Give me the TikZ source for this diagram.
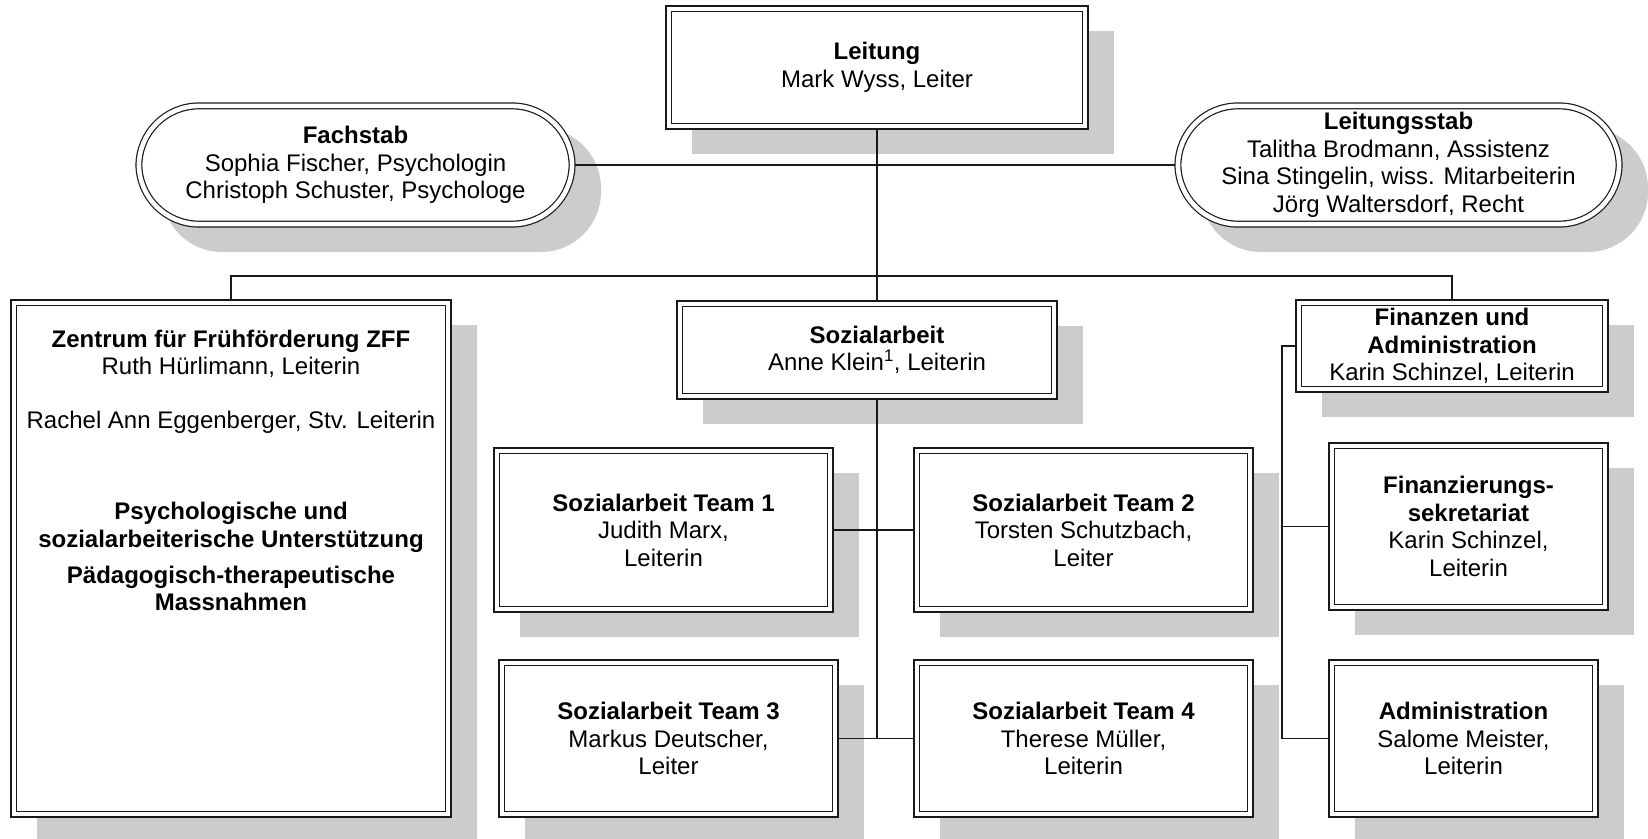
\documentclass[tikz,border=0pt]{standalone}
\usepackage{fontspec}
\setmainfont{Liberation Sans}
\definecolor{shadowfill}{RGB}{204,204,204}
\definecolor{inkline}{RGB}{25,25,25}
\tikzset{
  unitbox/.style={draw=inkline, line width=1.2pt, double=white, double distance=4.6pt,
    fill=white, inner sep=0pt, outer sep=2.9pt, align=center, text=black,
    font=\fontsize{24}{27.5}\selectfont},
  shadowbox/.style={fill=shadowfill, draw=none},
  conn/.style={draw=inkline, line width=1.1pt},
  txt/.style={inner sep=0pt, align=center, text=black, font=\fontsize{24}{27.5}\selectfont}
}
% #1 extra options, #2 name, #3 x1, #4 y1, #5 x2, #6 y2, #7 text
\newcommand\orgbox[7][]{%
  \fill[shadowbox,#1] ({#3+26},{#4+25}) rectangle ({#5+26},{#6+25});
  \node[unitbox,#1, minimum width={#5pt-#3pt-5.8pt}, minimum height={#6pt-#4pt-5.8pt}]
    (#2) at ({(#3+#5)/2},{(#4+#6)/2}) {#7};%
}
\begin{document}
\begin{tikzpicture}[x=1pt,y=-1pt]
\useasboundingbox (0,0) rectangle (1648,838);
\clip (0,0) rectangle (1648,838);

% top level
\orgbox{lt}{666}{6}{1088}{129}{\textbf{Leitung}\\Mark Wyss, Leiter}
\orgbox[rounded corners=60pt]{fs}{136}{103}{575}{227}{\textbf{Fachstab}\\Sophia Fischer, Psychologin\\Christoph Schuster, Psychologe}
\orgbox[rounded corners=60pt]{ls}{1175}{103}{1622}{227}{\textbf{Leitungsstab}\\Talitha Brodmann, Assistenz\\Sina Stingelin, wiss. Mitarbeiterin\\J\"org Waltersdorf, Recht}

% second level
\orgbox{zff}{11}{300}{451}{817}{}
\node[txt, anchor=north] (zfftxt) at (231,329.5) {\textbf{Zentrum für Frühförderung ZFF}\\Ruth Hürlimann, Leiterin\\[26.5pt]
Rachel Ann Eggenberger, Stv. Leiterin\\[63.5pt]
\textbf{Psychologische und}\\\textbf{sozialarbeiterische Unterstützung}\\[8.5pt]
\textbf{Pädagogisch-therapeutische}\\\textbf{Massnahmen}};
\orgbox{sa}{677}{301}{1057}{399}{}
\node[txt] (satxt) at (877,350) {\textbf{Sozialarbeit}\\Anne Klein\textsuperscript{1}, Leiterin};
\orgbox{fa}{1296}{300}{1608}{392}{\textbf{Finanzen und}\\\textbf{Administration}\\Karin Schinzel, Leiterin}

% teams
\orgbox{t1}{494}{448}{833}{612}{\textbf{Sozialarbeit Team 1}\\Judith Marx,\\Leiterin}
\orgbox{t2}{914}{448}{1253}{612}{\textbf{Sozialarbeit Team 2}\\Torsten Schutzbach,\\Leiter}
\orgbox{t3}{499}{660}{838}{817}{\textbf{Sozialarbeit Team 3}\\Markus Deutscher,\\Leiter}
\orgbox{t4}{914}{660}{1253}{817}{\textbf{Sozialarbeit Team 4}\\Therese Müller,\\Leiterin}
\orgbox{fz}{1329}{443}{1608}{610}{\textbf{Finanzierungs-}\\\textbf{sekretariat}\\Karin Schinzel,\\Leiterin}
\orgbox{ad}{1329}{660}{1598}{817}{\textbf{Administration}\\Salome Meister,\\Leiterin}

% connectors
\coordinate (bus) at (877,276);
\coordinate (ftree) at (1282,346);
\draw[conn] (lt.south) -- (lt.south |- sa.north);
\draw[conn] (fs.east) -- (ls.west);
\draw[conn] (zff.north) |- (bus) -| (fa.north);
\draw[conn] (lt.south |- sa.south) -- (lt.south |- t3.east);
\draw[conn] (t1.east) -- (t2.west);
\draw[conn] (t3.east) -- (t4.west);
\draw[conn] (fa.west) -- (ftree) |- (ad.west);
\draw[conn] (fz.west) -- (fz.west -| ftree);
\end{tikzpicture}
\end{document}
